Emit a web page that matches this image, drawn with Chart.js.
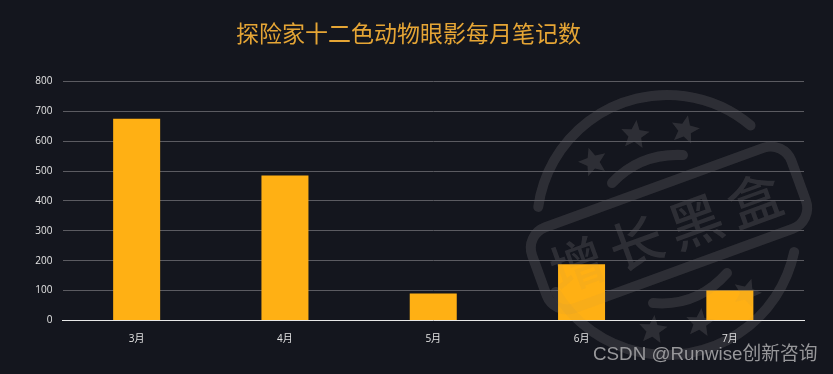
<!DOCTYPE html>
<html>
<head>
<meta charset="utf-8">
<title>探险家十二色动物眼影每月笔记数</title>
<script src="https://cdn.jsdelivr.net/npm/chart.js@4/dist/chart.umd.min.js"></script>
<style>
    html, body { margin: 0; padding: 0; background: #14161e; overflow: hidden; }
    #wrap { position: relative; width: 833px; height: 374px; }
    #credit {
        position: absolute; left: 593px; top: 342px;
        font: 18.8px "Liberation Sans", "Noto Sans CJK SC", sans-serif;
        line-height: 24px; color: #97979a; white-space: nowrap;
    }
</style>
</head>
<body>
<div id="wrap">
    <canvas id="chart" width="833" height="374"></canvas>
    <div id="credit">CSDN @Runwise创新咨询</div>
</div>
<script>
const titleText = '探险家十二色动物眼影每月笔记数';
const categories = ['3月', '4月', '5月', '6月', '7月'];
const noteCounts = [675, 485, 90, 188, 100];
const yMax = 800;
const yStep = 100;

const fontStack = '"Open Sans", "Noto Sans CJK SC", sans-serif';

function drawStar(ctx, x, y, r, rot) {
    ctx.beginPath();
    for (let i = 0; i < 10; i++) {
        const rad = i % 2 ? r * 0.45 : r;
        const a = rot - Math.PI / 2 + i * Math.PI / 5;
        ctx.lineTo(x + rad * Math.cos(a), y + rad * Math.sin(a));
    }
    ctx.closePath();
    ctx.fill();
}

// Stamp watermark behind the chart
function drawStamp(ctx, color) {
    const deg = Math.PI / 180;
    ctx.save();
    ctx.strokeStyle = color;
    ctx.fillStyle = color;
    ctx.lineWidth = 10;
    ctx.lineCap = 'round';

    ctx.beginPath();
    ctx.arc(667, 225, 130, -172 * deg, -50 * deg);
    ctx.stroke();
    ctx.beginPath();
    ctx.arc(667, 225, 130, 12 * deg, 149 * deg);
    ctx.stroke();

    ctx.beginPath();
    ctx.moveTo(612, 183);
    ctx.quadraticCurveTo(640, 153, 683, 155);
    ctx.stroke();
    ctx.beginPath();
    ctx.moveTo(653, 303);
    ctx.quadraticCurveTo(697, 307, 727, 273);
    ctx.stroke();

    [[593, 162, 15, -0.3], [635, 135, 15, 0.1], [685, 130, 15, 0.2],
     [653, 330, 15, 0.1], [700, 323, 15, 0.1], [747, 293, 15, 0.3]].forEach(s => {
        drawStar(ctx, s[0], s[1], s[2], s[3]);
    });

    ctx.translate(669, 228);
    ctx.rotate(-20 * deg);
    ctx.beginPath();
    ctx.roundRect(-138, -43, 276, 86, 22);
    ctx.stroke();
    ctx.font = '500 54px "Noto Sans CJK SC", sans-serif';
    ctx.letterSpacing = '9px';
    ctx.textAlign = 'center';
    ctx.textBaseline = 'middle';
    ctx.fillText('增长黑盒', 0, 3);
    ctx.restore();
}

const stampPlugin = {
    id: 'stamp',
    beforeDraw(chart) {
        const ctx = chart.ctx;
        ctx.save();
        ctx.fillStyle = '#14161e';
        ctx.fillRect(0, 0, chart.width, chart.height);
        ctx.restore();
        drawStamp(ctx, '#2a2b31');
    },
    afterDatasetsDraw(chart) {
        // faint trace of the stamp shows through the bars
        drawStamp(chart.ctx, 'rgba(120,120,130,0.05)');
    }
};

new Chart(document.getElementById('chart'), {
    type: 'bar',
    data: {
        labels: categories,
        datasets: [{
            data: noteCounts,
            backgroundColor: '#ffb014',
            barPercentage: 0.317,
            categoryPercentage: 1
        }]
    },
    options: {
        responsive: false,
        animation: false,
        layout: { padding: { left: 13, right: 29, top: 0, bottom: 0 } },
        plugins: {
            legend: { display: false },
            tooltip: { enabled: false },
            title: {
                display: true,
                text: titleText,
                color: '#e5a535',
                font: { family: '"Noto Sans CJK SC", sans-serif', size: 23, weight: 'normal' },
                padding: { top: 19, bottom: 34.7 }
            }
        },
        scales: {
            x: {
                afterFit(scale) { scale.height = 53.5; },
                grid: { display: false },
                border: { color: '#e8e8e8', width: 1 },
                ticks: { color: '#e4e4e4', font: { family: fontStack, size: 10 }, padding: 5, maxRotation: 0 }
            },
            y: {
                min: 0,
                max: yMax,
                afterFit(scale) { scale.width = 49.5; },
                grid: { color: '#5b5b61', lineWidth: 1, drawTicks: false },
                border: { display: false },
                ticks: { stepSize: yStep, color: '#e4e4e4', font: { family: fontStack, size: 10 }, padding: 10 }
            }
        }
    },
    plugins: [stampPlugin]
});
</script>
</body>
</html>
